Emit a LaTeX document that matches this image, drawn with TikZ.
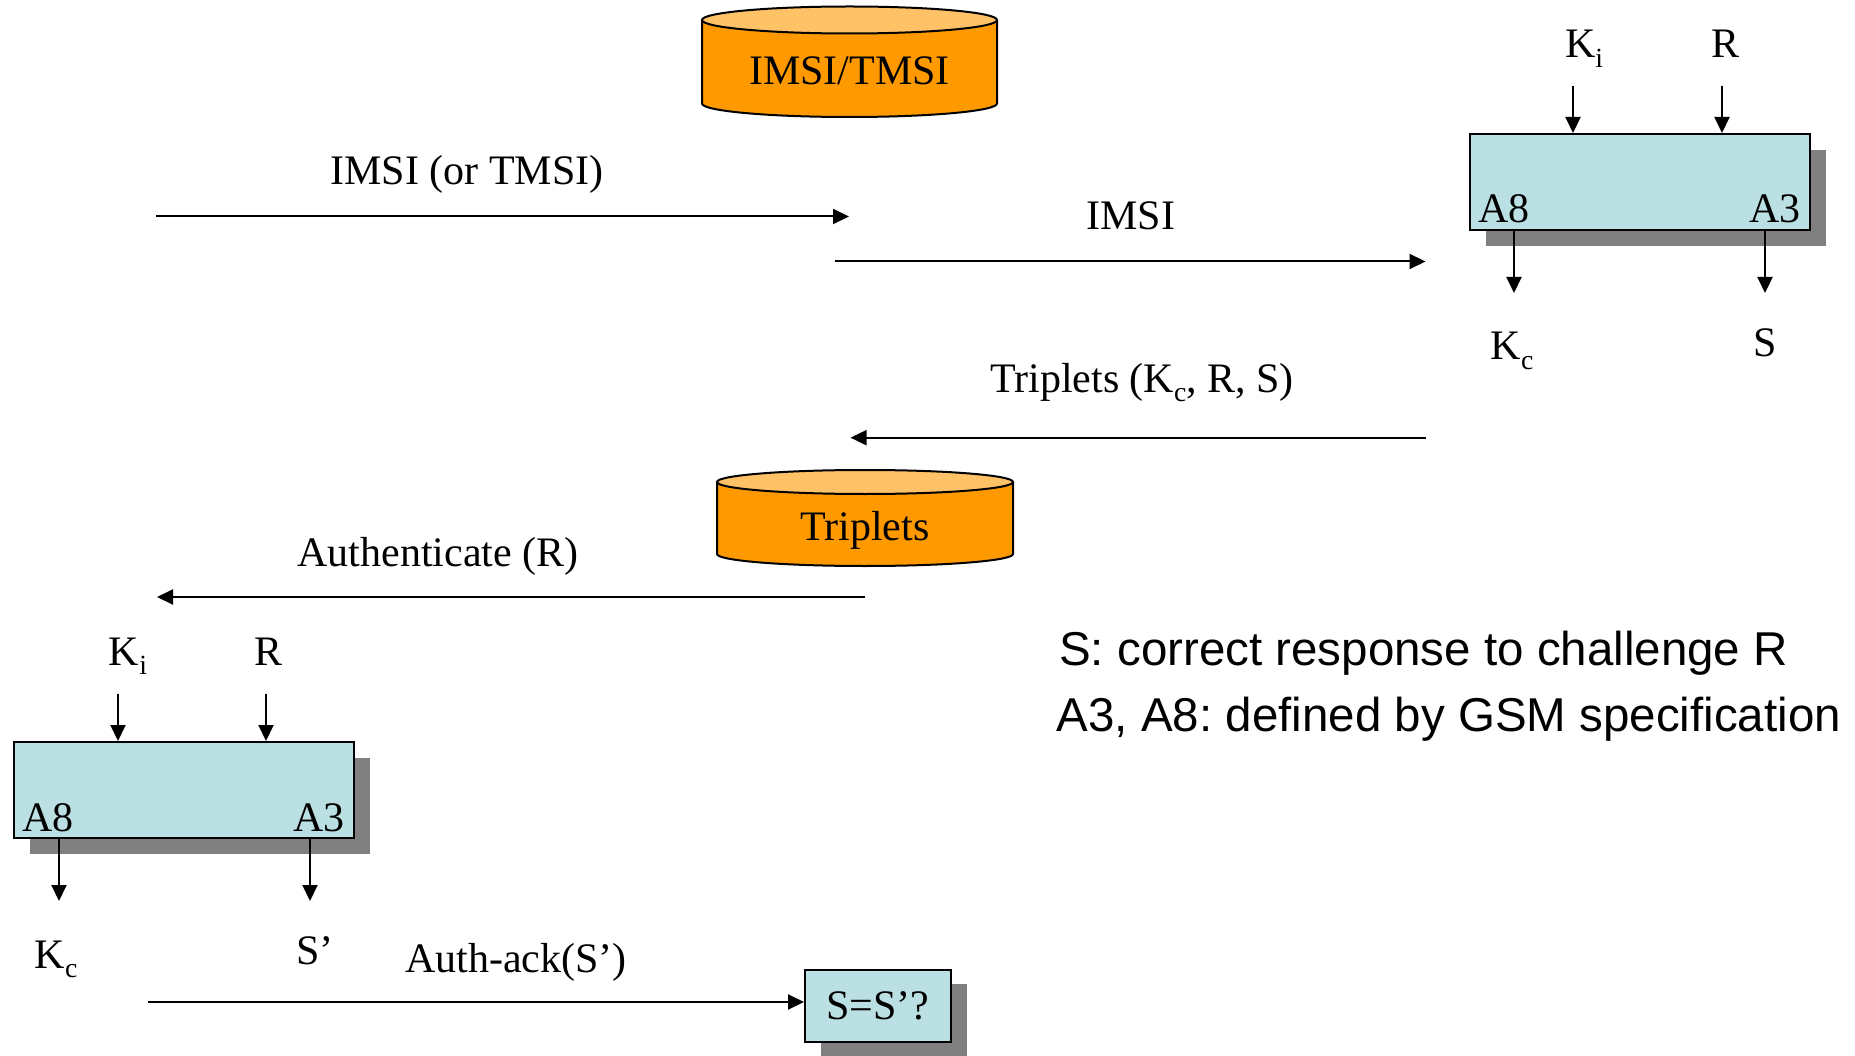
\documentclass[tikz,border=0pt]{standalone}
\usepackage{fontspec}
\setmainfont{Liberation Serif}
\newfontfamily\notefont{Liberation Sans}
\usetikzlibrary{arrows.meta,shadows}
\definecolor{dbbody}{HTML}{FF9900}
\definecolor{dbtop}{HTML}{FFC266}
\definecolor{algofill}{HTML}{BBE0E3}
\definecolor{shadegray}{HTML}{808080}
\frenchspacing

% lowered, reduced index letter as in K_i, K_c
\newcommand\lowsub[1]{\raisebox{-0.22em}{\scalebox{0.66}{#1}}}

\tikzset{
  msg/.style={line width=2pt, -{Triangle[length=16pt,width=15pt]}},
  bigtxt/.style={inner sep=0pt, font=\fontsize{42}{50}\selectfont},
  notetxt/.style={inner sep=0pt, font=\notefont\fontsize{47.5}{56}\selectfont},
  algobox/.style={draw, line width=2pt, fill=algofill, inner sep=0pt,
    drop shadow={shadow xshift=16pt, shadow yshift=-16pt, fill=shadegray, opacity=1}},
  dbline/.style={line width=2pt},
}

\begin{document}
\begin{tikzpicture}[x=1pt, y=-1pt]
\useasboundingbox (0,0) rectangle (1855,1056);

% ---- subscriber database (IMSI/TMSI) ----
\fill[dbbody] (702,20) -- (702,103.5)
  arc[start angle=180, end angle=360, x radius=147.5pt, y radius=13.5pt] -- (997,20) -- cycle;
\draw[dbline] (702,20) -- (702,103.5)
  arc[start angle=180, end angle=360, x radius=147.5pt, y radius=13.5pt] -- (997,20);
\draw[dbline, fill=dbtop] (849.5,20) ellipse [x radius=147.5pt, y radius=13.5pt];
\node[bigtxt, anchor=base] (imsidb) at (849.5,85) {IMSI/TMSI};

% ---- triplet store ----
\fill[dbbody] (717,482) -- (717,554)
  arc[start angle=180, end angle=360, x radius=148pt, y radius=12pt] -- (1013,482) -- cycle;
\draw[dbline] (717,482) -- (717,554)
  arc[start angle=180, end angle=360, x radius=148pt, y radius=12pt] -- (1013,482);
\draw[dbline, fill=dbtop] (865,482) ellipse [x radius=148pt, y radius=12pt];
\node[bigtxt, anchor=base] (tripdb) at (865,540) {Triplets};

% ---- algorithm boxes ----
\node[algobox, minimum width=340pt, minimum height=96pt] (hlrbox) at (1640,182) {};
\node[bigtxt, anchor=base west] (hlrA8) at (1478,223) {A8};
\node[bigtxt, anchor=base east] (hlrA3) at (1801,223) {A3};

\node[algobox, minimum width=340pt, minimum height=96pt] (msbox) at (184,790) {};
\node[bigtxt, anchor=base west] (msA8) at (22,831) {A8};
\node[bigtxt, anchor=base east] (msA3) at (345,831) {A3};

\node[algobox, bigtxt, minimum width=146pt, minimum height=72pt,
  drop shadow={shadow xshift=16pt, shadow yshift=-14pt, fill=shadegray, opacity=1}]
  (eqbox) at (878,1006) {S=S’?};

% ---- inputs / outputs of the home-side box ----
\node[bigtxt, anchor=base] (hlrKi) at (1584,58) {K\lowsub{i}};
\node[bigtxt, anchor=base] (hlrR) at (1725,58) {R};
\coordinate (hlrKiIn) at (1573,86);
\coordinate (hlrRIn) at (1722,86);
\draw[msg] (hlrKiIn) -- (hlrKiIn |- hlrbox.north);
\draw[msg] (hlrRIn) -- (hlrRIn |- hlrbox.north);
\coordinate (hlrKcOut) at (1514,293);
\coordinate (hlrSOut) at (1765,293);
\draw[msg] (hlrKcOut |- hlrbox.south) -- (hlrKcOut);
\draw[msg] (hlrSOut |- hlrbox.south) -- (hlrSOut);
\node[bigtxt, anchor=base] (hlrKc) at (1512,360) {K\lowsub{c}};
\node[bigtxt, anchor=base] (hlrS) at (1765,357) {S};

% ---- inputs / outputs of the mobile-side box ----
\node[bigtxt, anchor=base] (msKi) at (128,665) {K\lowsub{i}};
\node[bigtxt, anchor=base] (msR) at (269,665) {R};
\coordinate (msKiIn) at (118,694);
\coordinate (msRIn) at (266,694);
\draw[msg] (msKiIn) -- (msKiIn |- msbox.north);
\draw[msg] (msRIn) -- (msRIn |- msbox.north);
\coordinate (msKcOut) at (59,901);
\coordinate (msSOut) at (310,901);
\draw[msg] (msKcOut |- msbox.south) -- (msKcOut);
\draw[msg] (msSOut |- msbox.south) -- (msSOut);
\node[bigtxt, anchor=base] (msKc) at (56,968) {K\lowsub{c}};
\node[bigtxt, anchor=base] (msS) at (315,964) {S’};

% ---- messages ----
\coordinate (msgAfrom) at (156,216.5);
\coordinate (msgAto) at (849,216.5);
\draw[msg] (msgAfrom) -- (msgAto);
\node[bigtxt, anchor=base] (msgAlbl) at (467,185) {IMSI (or TMSI)};

\coordinate (msgBfrom) at (835,261.5);
\coordinate (msgBto) at (1425.5,261.5);
\draw[msg] (msgBfrom) -- (msgBto);
\node[bigtxt, anchor=base] (msgBlbl) at (1131,230) {IMSI};

\coordinate (msgCfrom) at (1425.5,437.7);
\coordinate (msgCto) at (850.5,437.7);
\draw[msg] (msgCfrom) -- (msgCto);
\node[bigtxt, anchor=base] (msgClbl) at (1142,392) {Triplets (K\lowsub{c}, R, S)};

\coordinate (msgDfrom) at (865,597);
\coordinate (msgDto) at (157,597);
\draw[msg] (msgDfrom) -- (msgDto);
\node[bigtxt, anchor=base] (msgDlbl) at (438,566) {Authenticate (R)};

\coordinate (msgEfrom) at (148,1002);
\draw[msg] (msgEfrom) -- (msgEfrom -| eqbox.west);
\node[bigtxt, anchor=base] (msgElbl) at (516,972) {Auth-ack(S’)};

% ---- notes ----
\node[notetxt, anchor=base west] (noteS) at (1059,665) {S: correct response to challenge R};
\node[notetxt, anchor=base west] (noteA) at (1056.6,731) {A3, A8: defined by GSM specification};
\end{tikzpicture}
\end{document}
